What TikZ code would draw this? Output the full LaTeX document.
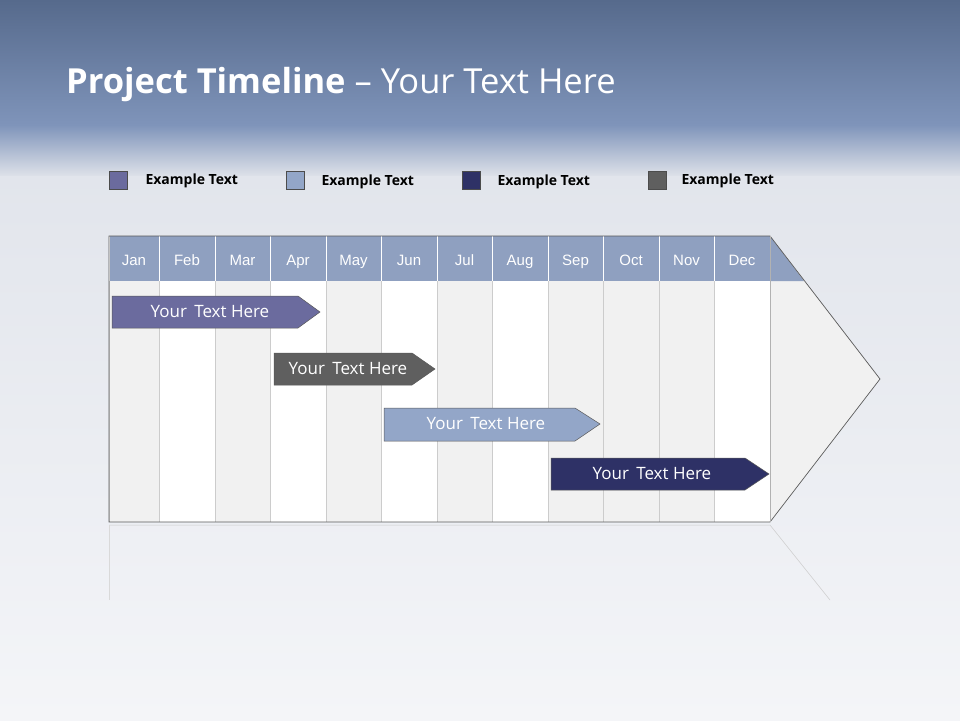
\documentclass[tikz,border=0pt]{standalone}
\usepackage{fontspec}
\setmainfont{Open Sans}
\setsansfont{Liberation Sans}
\definecolor{hdrA}{HTML}{566A8C}
\definecolor{hdrB}{HTML}{7F94BA}
\definecolor{bgA}{HTML}{F4F5F8}
\definecolor{bgB}{HTML}{DCE0E8}
\definecolor{cA}{HTML}{6B6B9E}
\definecolor{cB}{HTML}{93A6C8}
\definecolor{cC}{HTML}{2E3166}
\definecolor{cD}{HTML}{5F5F5F}
\definecolor{month}{HTML}{8FA0C0}
\definecolor{colg}{HTML}{F1F1F1}
\tikzset{
 legbox/.style={draw=gray!60!black,line width=0.5pt,minimum size=18pt,inner sep=0pt},
 legtxt/.style={anchor=west,font=\bfseries\fontsize{14}{16}\selectfont,text=black},
 mtxt/.style={font=\sffamily\fontsize{15}{17}\selectfont,text=white,anchor=base},
 bar/.style={draw=gray!70!black,line width=0.5pt},
 bartxt/.style={font=\fontsize{17}{19}\selectfont,text=white},
}
\begin{document}
\begin{tikzpicture}[x=1pt,y=-1pt]
\useasboundingbox (0,0) rectangle (960,720);
\shade[top color=bgB,bottom color=bgA] (0,0) rectangle (960,720);
\shade[top color=hdrA,bottom color=hdrB] (0,0) rectangle (960,125);
\shade[top color=hdrB,bottom color=bgB] (0,125) rectangle (960,175);
\node[anchor=base west,text=white,font=\fontsize{34.5}{38}\selectfont,inner sep=0] (title) at (66,93) {\textbf{Project Timeline} -- Your Text Here};
% legend
\foreach \x/\c/\n in {109/cA/1,286/cB/2,462/cC/3,648/cD/4}{
 \node[legbox,fill=\c,anchor=north west] (lb\n) at (\x,171) {};
}
\node[legtxt] (lt1) at (142,181) {Example Text};
\node[legtxt] (lt2) at (318,182) {Example Text};
\node[legtxt] (lt3) at (494,182) {Example Text};
\node[legtxt] (lt4) at (678,181) {Example Text};
% arrow body
\fill[colg] (770,236) -- (880,379) -- (770,522) -- cycle;
\fill[month] (770,236) -- (804,281) -- (770,281) -- cycle;
\foreach \a/\b/\m/\f [count=\i] in {109/159/Jan/colg,159/215/Feb/white,215/270/Mar/colg,270/326/Apr/white,326/381/May/colg,381/437/Jun/white,437/492/Jul/colg,492/548/Aug/white,548/603/Sep/colg,603/659/Oct/colg,659/714/Nov/colg,714/770/Dec/white}{
 \fill[\f] (\a,281) rectangle (\b,522);
 \draw[gray!40,line width=0.5pt] (\a,281) -- (\a,522);
 \fill[month] (\a,236) rectangle (\b,281);
 \draw[white,line width=0.8pt] (\a,236) -- (\a,281);
 \node[mtxt] (m\i) at ({(\a+\b)/2},265) {\m};
}
\draw[gray!70!black,line width=0.7pt] (109,236) -- (770,236) -- (880,379) -- (770,522) -- (109,522) -- cycle;
\draw[gray!60,line width=0.5pt] (770,236) -- (770,522);
% reflection
\draw[gray!40,line width=0.5pt] (109,525) -- (770,525) -- (830,600);
\draw[gray!30,line width=0.5pt] (109,525) -- (109,600);
% bars
\draw[bar,fill=cA] (112,296) -- (298,296) -- (320,312) -- (298,328) -- (112,328) -- cycle;
\node[bartxt] (t1) at (210,312) {Your\, Text Here};
\draw[bar,fill=cD] (274,353) -- (412,353) -- (435,369) -- (412,385) -- (274,385) -- cycle;
\node[bartxt] (t2) at (348,369) {Your\, Text Here};
\draw[bar,fill=cB] (384,408) -- (575,408) -- (600,424) -- (575,441) -- (384,441) -- cycle;
\node[bartxt] (t3) at (486,424) {Your\, Text Here};
\draw[bar,fill=cC] (551,458) -- (745,458) -- (769,474) -- (745,490) -- (551,490) -- cycle;
\node[bartxt] (t4) at (652,474) {Your\, Text Here};
\end{tikzpicture}
\end{document}
